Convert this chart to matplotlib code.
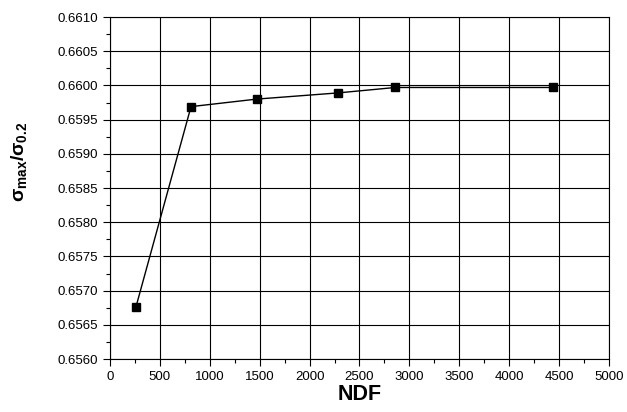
import matplotlib
matplotlib.use('Agg')
import matplotlib.pyplot as plt
from matplotlib.ticker import MultipleLocator, FormatStrFormatter

plt.rcParams['font.family'] = ['Liberation Sans', 'DejaVu Sans']
plt.rcParams['mathtext.fontset'] = 'custom'
plt.rcParams['mathtext.rm'] = 'Liberation Sans:bold'
plt.rcParams['mathtext.it'] = 'Liberation Sans:bold'
plt.rcParams['mathtext.bf'] = 'Liberation Sans:bold'

# data
ndf = [260, 812, 1470, 2281, 2860, 4440]
ratio = [0.65676, 0.65969, 0.65980, 0.65989, 0.65997, 0.65997]

fig = plt.figure(figsize=(6.27, 4.12), dpi=100)
ax = fig.add_axes([0.1754, 0.1286, 0.7959, 0.8301])

ax.plot(ndf, ratio, color='black', lw=1.0, marker='s', ms=5.5,
        markerfacecolor='black', zorder=3)

ax.set_xlim(0, 5000)
ax.set_ylim(0.6560, 0.6610)
ax.xaxis.set_major_locator(MultipleLocator(500))
ax.xaxis.set_minor_locator(MultipleLocator(250))
ax.yaxis.set_major_locator(MultipleLocator(0.0005))
ax.yaxis.set_minor_locator(MultipleLocator(0.00025))
ax.yaxis.set_major_formatter(FormatStrFormatter('%.4f'))
ax.grid(True, which='major', color='black', lw=0.8)
ax.tick_params(which='both', direction='out', top=False, right=False,
               labelsize=9.5, width=0.8)
ax.tick_params(which='major', length=5)
ax.tick_params(which='minor', length=3)
for s in ax.spines.values():
    s.set_linewidth(0.8)

ax.set_xlabel('NDF', fontsize=15.5, fontweight='bold', labelpad=1)
ax.set_ylabel(r'$\sigma_{max}/\sigma_{0.2}$', fontsize=14)
ax.yaxis.set_label_coords(-0.162, 0.576)

fig.savefig('out.png', dpi=100)
